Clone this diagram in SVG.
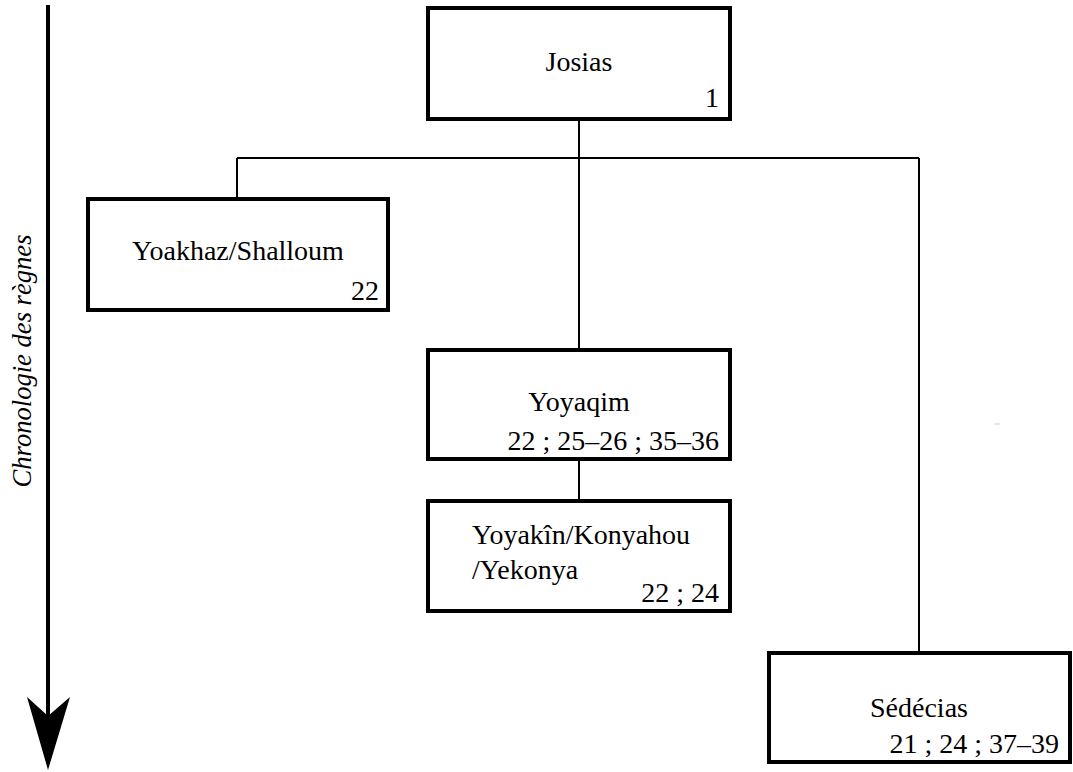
<svg xmlns="http://www.w3.org/2000/svg" width="1073" height="772" viewBox="0 0 1073 772">
<style>
.box{fill:#fff;stroke:#000;stroke-width:4}
.t{font-family:"Liberation Serif",serif;font-size:28px;fill:#000}
.n{font-family:"Liberation Serif",serif;font-size:28px;fill:#000;text-anchor:end}
.c{text-anchor:middle}
.conn{fill:none;stroke:#000;stroke-width:2}
</style>
<rect width="1073" height="772" fill="#fff"/>
<g id="axis">
<line x1="48" y1="5" x2="48" y2="718" stroke="#000" stroke-width="4"/>
<polygon points="48,770 70,697 48,716 27,697" fill="#000"/>
<text transform="translate(31,361) rotate(-90)" text-anchor="middle" font-family="Liberation Serif, serif" font-style="italic" font-size="27" textLength="253" lengthAdjust="spacingAndGlyphs">Chronologie des règnes</text>
</g>
<g id="connectors">
<path class="conn" d="M579 121 V158 M237 158 H919 M237 158 V197 M579 158 V348 M919 158 V651 M579 461 V499"/>
</g>
<g id="josias">
<rect class="box" x="428" y="8" width="302" height="111"/>
<text class="t c" x="579" y="71">Josias</text>
<text class="n" x="719" y="107">1</text>
</g>
<g id="yoakhaz">
<rect class="box" x="88" y="199" width="300" height="111"/>
<text class="t c" x="238" y="260">Yoakhaz/Shalloum</text>
<text class="n" x="379" y="300">22</text>
</g>
<g id="yoyaqim">
<rect class="box" x="428" y="350" width="302" height="109"/>
<text class="t c" x="579" y="411">Yoyaqim</text>
<text class="n" x="719" y="450">22 ; 25–26 ; 35–36</text>
</g>
<g id="yoyakin">
<rect class="box" x="428" y="501" width="302" height="110"/>
<text class="t" x="472" y="544">Yoyakîn/Konyahou</text>
<text class="t" x="472" y="579">/Yekonya</text>
<text class="n" x="719" y="602">22 ; 24</text>
</g>
<g id="sedecias">
<rect class="box" x="769" y="653" width="301" height="109"/>
<text class="t c" x="919" y="717">Sédécias</text>
<text class="n" x="1059" y="753">21 ; 24 ; 37–39</text>
</g>
<line x1="994" y1="424" x2="1000" y2="424" stroke="#ccc" stroke-width="1"/>
</svg>
